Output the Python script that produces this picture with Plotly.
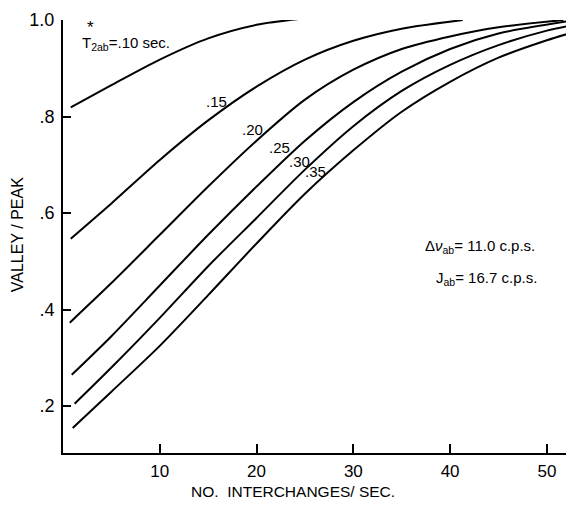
import plotly.graph_objects as go

# Curves: T*2ab values and (x, valley/peak) samples
t2_labels = [".10", ".15", ".20", ".25", ".30", ".35"]

x_10 = [0.8, 5, 10, 15, 20, 24.8]
y_10 = [0.819, 0.865, 0.918, 0.962, 0.99, 1.003]

x_15 = [0.8, 5, 10, 15, 20, 25, 30, 35, 41.3]
y_15 = [0.547, 0.62, 0.71, 0.792, 0.862, 0.918, 0.957, 0.982, 1.0]

x_20 = [0.7, 5, 10, 15, 20, 25, 30, 35, 40, 45, 51.7]
y_20 = [0.373, 0.455, 0.555, 0.655, 0.75, 0.835, 0.897, 0.94, 0.966, 0.985, 1.0]

x_25 = [0.9, 5, 10, 15, 20, 25, 30, 35, 40, 45, 52.4]
y_25 = [0.265, 0.345, 0.45, 0.555, 0.655, 0.75, 0.83, 0.893, 0.94, 0.972, 0.998]

x_30 = [1.2, 5, 10, 15, 20, 25, 30, 35, 40, 45, 50, 52.8]
y_30 = [0.205, 0.28, 0.383, 0.49, 0.59, 0.69, 0.78, 0.853, 0.907, 0.948, 0.978, 0.99]

x_35 = [1.0, 5, 10, 15, 20, 25, 30, 35, 40, 45, 50, 52.8]
y_35 = [0.155, 0.23, 0.325, 0.43, 0.537, 0.64, 0.73, 0.81, 0.872, 0.922, 0.958, 0.975]

curves = [(x_10, y_10), (x_15, y_15), (x_20, y_20), (x_25, y_25), (x_30, y_30), (x_35, y_35)]

x_ticks = [10, 20, 30, 40, 50]
y_ticks = [0.2, 0.4, 0.6, 0.8, 1.0]
y_ticktext = [".2", ".4", ".6", ".8", "1.0"]

FONT = "Liberation Sans"

fig = go.Figure()
for (xs, ys), lab in zip(curves, t2_labels):
    fig.add_trace(go.Scatter(x=xs, y=ys, mode="lines", name=lab,
                             line=dict(color="black", width=2, shape="spline", smoothing=0.8),
                             showlegend=False, hoverinfo="skip"))

annots = [
    dict(x=1.8, y=0.951, text="T<sub>2ab</sub>=.10 sec.", xanchor="left", yanchor="middle",
         font=dict(size=15)),
    dict(x=2.8, y=0.985, text="*", xanchor="center", yanchor="middle", font=dict(size=17)),
    dict(x=15.9, y=0.831, text=".15", xanchor="center", yanchor="middle", font=dict(size=15)),
    dict(x=19.6, y=0.773, text=".20", xanchor="center", yanchor="middle", font=dict(size=15)),
    dict(x=22.4, y=0.736, text=".25", xanchor="center", yanchor="middle", font=dict(size=15)),
    dict(x=24.4, y=0.707, text=".30", xanchor="center", yanchor="middle", font=dict(size=15)),
    dict(x=26.1, y=0.686, text=".35", xanchor="center", yanchor="middle", font=dict(size=15)),
    dict(x=49.0, y=0.53, text="Δ<i>ν</i><sub>ab</sub>= 11.0 c.p.s.", xanchor="right", yanchor="middle",
         font=dict(size=15)),
    dict(x=49.2, y=0.464, text="J<sub>ab</sub>= 16.7 c.p.s.", xanchor="right", yanchor="middle",
         font=dict(size=15)),
]
for a in annots:
    a.update(showarrow=False, xref="x", yref="y")
    a["font"].update(family=FONT, color="black")
    fig.add_annotation(**a)

# axis titles
fig.add_annotation(x=0.45, y=0, xref="paper", yref="paper", yshift=-38, showarrow=False,
                   text="NO.  INTERCHANGES/ SEC.", xanchor="center", yanchor="middle",
                   font=dict(size=15.5, family=FONT, color="black"))
fig.add_annotation(x=0, y=0.503, xref="paper", yref="paper", xshift=-46, showarrow=False,
                   text="VALLEY / PEAK", textangle=-90, xanchor="center", yanchor="middle",
                   font=dict(size=16, family=FONT, color="black"))

# page body has an 8px margin, so the figure is sized to fill the rest of the window
fig.update_layout(
    width=566, height=503,
    margin=dict(l=55, r=0, t=12, b=58, autoexpand=False),
    paper_bgcolor="white", plot_bgcolor="white",
    font=dict(family=FONT, color="black"),
    showlegend=False,
)
fig.update_xaxes(range=[0, 52.8], tickvals=x_ticks, ticks="inside", ticklen=9, tickwidth=1.5,
                 tickcolor="black", showline=True, linecolor="black", linewidth=2,
                 showgrid=False, zeroline=False, tickfont=dict(size=17, family=FONT),
                 ticklabelstandoff=2, automargin=False)
fig.update_yaxes(range=[0.103, 1.0], tickvals=y_ticks, ticktext=y_ticktext, ticks="inside",
                 ticklen=8, tickwidth=1.5, tickcolor="black", showline=True, linecolor="black",
                 linewidth=2, showgrid=False, zeroline=False, tickfont=dict(size=18, family=FONT),
                 ticklabelstandoff=3, automargin=False)

fig.write_html("out.html")
